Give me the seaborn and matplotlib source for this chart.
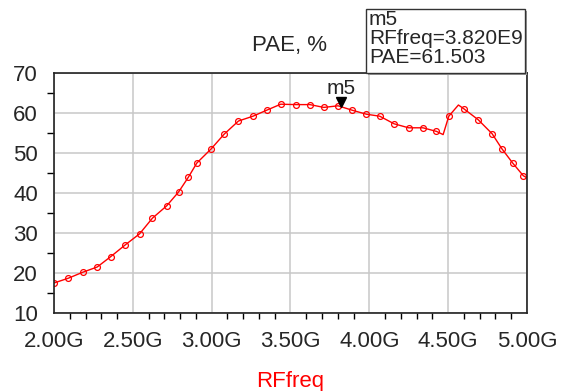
import numpy as np
import pandas as pd
import matplotlib
matplotlib.use("Agg")
import matplotlib.pyplot as plt
import matplotlib.transforms as mtransforms
from matplotlib.patches import Rectangle
from matplotlib.ticker import MultipleLocator
import seaborn as sns

# PAE sweep (RFfreq in GHz, PAE in %)
rf_freq = [2.000, 2.091, 2.183, 2.274, 2.360, 2.451, 2.543, 2.624, 2.715, 2.791,
           2.853, 2.906, 2.996, 3.079, 3.170, 3.262, 3.349, 3.438, 3.532, 3.623,
           3.711, 3.802, 3.891, 3.981, 4.066, 4.157, 4.249, 4.340, 4.426, 4.468,
           4.504, 4.565, 4.598, 4.691, 4.779, 4.840, 4.909, 4.977, 5.000]
pae = [17.5, 18.7, 20.2, 21.5, 24.1, 27.0, 29.8, 33.7, 36.8, 40.3,
       44.0, 47.5, 51.0, 54.7, 58.0, 59.2, 60.7, 62.2, 62.1, 62.1,
       61.4, 61.8, 60.7, 59.7, 59.2, 57.3, 56.3, 56.3, 55.4, 54.6,
       59.2, 62.0, 61.1, 58.3, 54.8, 51.1, 47.5, 44.3, 43.8]
# points that are only on the curve, no circle drawn
no_marker = [4.468, 4.565, 5.000]

# marker m5
m5_freq = 3.820
m5_pae = 61.503

x_ticks = [2.0, 2.5, 3.0, 3.5, 4.0, 4.5, 5.0]
x_tick_labels = ["2.00G", "2.50G", "3.00G", "3.50G", "4.00G", "4.50G", "5.00G"]
y_ticks = [10, 20, 30, 40, 50, 60, 70]

df = pd.DataFrame({"RFfreq": rf_freq, "PAE": pae})
mark_idx = [i for i, f in enumerate(rf_freq) if f not in no_marker]

sns.set_style("white")
plt.rcParams["font.family"] = ["Liberation Sans", "DejaVu Sans"]

fig = plt.figure(figsize=(5.61, 3.91), dpi=100)
W, H = 561, 391
ax = fig.add_axes([54 / W, 1 - 313 / H, (527 - 54) / W, (313 - 73) / H])

sns.lineplot(data=df, x="RFfreq", y="PAE", ax=ax, color="#ff0000", lw=1,
             marker="o", markersize=4.2, markerfacecolor="none",
             markeredgecolor="#ff0000", markeredgewidth=0.9, markevery=mark_idx)

# m5 marker triangle sitting on the curve
offset = mtransforms.ScaledTranslation(0, 5 / 100, fig.dpi_scale_trans)
ax.plot([m5_freq], [m5_pae], marker="v", color="black", markersize=7,
        transform=ax.transData + offset, clip_on=False, zorder=5)
ax.text(m5_freq, m5_pae, "m5", fontsize=15, ha="center", va="bottom",
        transform=ax.transData + mtransforms.ScaledTranslation(0, 9 / 100, fig.dpi_scale_trans))

ax.set_xlim(2.0, 5.0)
ax.set_ylim(10, 70)
ax.set_xticks(x_ticks)
ax.set_xticklabels(x_tick_labels)
ax.set_yticks(y_ticks)
ax.xaxis.set_minor_locator(MultipleLocator(0.1))
ax.yaxis.set_minor_locator(MultipleLocator(5))
ax.grid(True, which="major", color="#c8c8c8", lw=1.1)
ax.tick_params(axis="x", which="major", direction="out", length=10, width=1,
               color="black", labelsize=16, pad=3)
ax.tick_params(axis="x", which="minor", direction="out", length=4.5, width=1,
               color="black", bottom=True)
ax.tick_params(axis="y", which="major", direction="out", length=8.5, width=1,
               color="black", labelsize=16, pad=3)
ax.tick_params(axis="y", which="minor", direction="out", length=5, width=1,
               color="black", left=True)
for s in ax.spines.values():
    s.set_visible(True)
    s.set_color("#222222")
    s.set_linewidth(1.2)
ax.set_xlabel("")
ax.set_ylabel("")

fig.text(290 / W, 1 - 45 / H, "PAE, %", fontsize=16, ha="center", va="center")
fig.text(290 / W, 1 - 381 / H, "RFfreq", fontsize=16, ha="center", va="center",
         color="#ff0000")

# marker readout box
fig.patches.append(Rectangle((368 / W, 1 - 75 / H), 159 / W, 64 / H,
                             transform=fig.transFigure, facecolor="#9a9a9a",
                             edgecolor="none", zorder=1))
fig.patches.append(Rectangle((366 / W, 1 - 73 / H), 159 / W, 64 / H,
                             transform=fig.transFigure, facecolor="white",
                             edgecolor="#333333", lw=1, zorder=2))
fig.text(369 / W, 1 - 10 / H, "m5\nRFfreq=3.820E9\nPAE=61.503", fontsize=15,
         ha="left", va="top", linespacing=1.0, zorder=3)

fig.savefig("out.png", dpi=100)
